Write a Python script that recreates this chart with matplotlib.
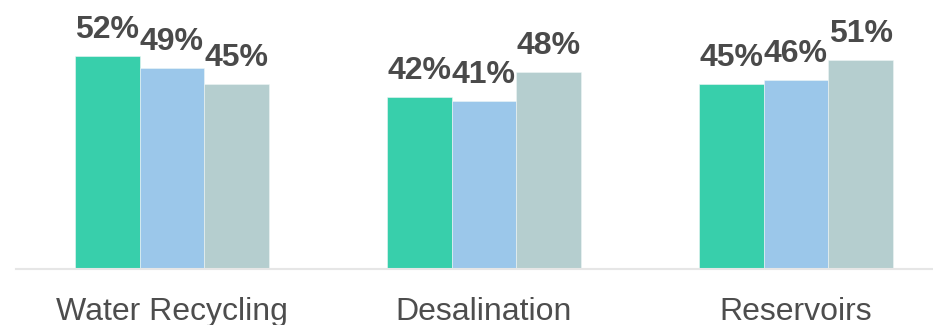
import matplotlib
matplotlib.use("Agg")
import matplotlib.pyplot as plt
import numpy as np

categories = ["Water Recycling", "Desalination", "Reservoirs"]
series_a = [52, 42, 45]
series_b = [49, 41, 46]
series_c = [45, 48, 51]
colors = ["#38CFAB", "#9BC7EA", "#B5CECF"]

plt.rcParams["font.family"] = ["Liberation Sans", "DejaVu Sans"]

W, H = 933, 325
fig = plt.figure(figsize=(W / 100, H / 100), dpi=100)
ax = fig.add_axes([16 / W, 56 / H, 936 / W, 269 / H])

x = np.arange(len(categories))
width = 0.207
for i, (vals, col) in enumerate(zip([series_a, series_b, series_c], colors)):
    pos = x + (i - 1) * width
    ax.bar(pos, vals, width, color=col, edgecolor="#eef6f6", linewidth=0.4, zorder=2)
    for px, v in zip(pos, vals):
        ax.annotate(f"{v}%", (px, v), xytext=(0, 13), textcoords="offset points",
                    ha="center", va="baseline", fontsize=23, fontweight="bold",
                    color="#4a4a4a")

ax.set_xlim(-0.5, 2.5)
ax.set_ylim(0, 65.6)
ax.set_yticks([])
ax.set_xticks(x)
ax.set_xticklabels(categories, fontsize=23, color="#4d4d4d")
ax.tick_params(axis="x", length=0, pad=20)
for s in ["top", "right", "left"]:
    ax.spines[s].set_visible(False)
ax.spines["bottom"].set_color("#e6e6e6")
ax.spines["bottom"].set_linewidth(1.5)

fig.savefig("out.png", dpi=100)
